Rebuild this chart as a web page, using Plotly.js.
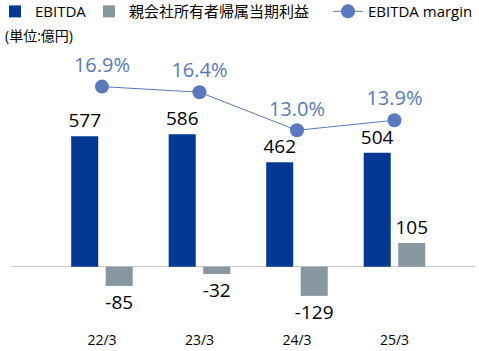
<!DOCTYPE html>
<html>
<head>
<meta charset="utf-8">
<script src="https://cdn.plot.ly/plotly-3.0.1.min.js"></script>
<style>html,body{margin:0;padding:0;background:#fff;}#chart{width:479px;height:351px;}</style>
</head>
<body>
<div id="chart"></div>
<script>
const categories = ["22/3", "23/3", "24/3", "25/3"];
const ebitda = [577, 586, 462, 504];
const netIncome = [-85, -32, -129, 105];
const ebitdaMargin = [16.9, 16.4, 13.0, 13.9];
const seriesNames = ["EBITDA", "親会社所有者帰属当期利益", "EBITDA margin"];
const unitLabel = "(単位:億円)";

const FONT = "'Open Sans', 'Noto Sans CJK JP', sans-serif";
const idx = categories.map((_, i) => i);

const traces = [
  {
    type: "bar", name: seriesNames[0], x: idx, y: ebitda, legend: "legend",
    marker: {color: "#003893"},
    text: ebitda.map(String), textposition: "outside", cliponaxis: false,
    constraintext: "none",
    textfont: {size: 19, color: "#000", family: FONT},
    hoverinfo: "skip"
  },
  {
    type: "bar", name: seriesNames[1], x: idx, y: netIncome, legend: "legend2",
    marker: {color: "#8797a0"},
    text: netIncome.map(String), textposition: "outside", cliponaxis: false,
    constraintext: "none",
    textfont: {size: 19, color: "#000", family: FONT},
    hoverinfo: "skip"
  },
  {
    type: "scatter", mode: "lines+markers+text", name: seriesNames[2], legend: "legend3",
    x: idx, y: ebitdaMargin, yaxis: "y2",
    line: {color: "#5a78be", width: 1},
    marker: {color: "#5a78be", size: 14},
    text: ebitdaMargin.map(v => v.toFixed(1) + "%"), textposition: "top center",
    textfont: {size: 20, color: "#5a78be", family: FONT},
    cliponaxis: false, hoverinfo: "skip"
  }
];

function legendAt(px) {
  return {
    orientation: "h", x: (px - 11) / 464, xanchor: "left", y: 1.196, yanchor: "top",
    font: {size: 15, color: "#000", family: FONT},
    bgcolor: "rgba(0,0,0,0)", itemclick: false
  };
}

const layout = {
  width: 479, height: 351,
  margin: {l: 11, r: 4, t: 50, b: 21, autoexpand: false},
  paper_bgcolor: "#fff", plot_bgcolor: "#fff",
  font: {family: FONT, color: "#000"},
  barmode: "group", bargap: 0.292, bargroupgap: 0.217,
  showlegend: true,
  legend: legendAt(-5),
  legend2: legendAt(89),
  legend3: legendAt(328),
  xaxis: {
    range: [-0.933, 3.826], tickmode: "array", tickvals: idx, ticktext: categories,
    showgrid: false, zeroline: false, showline: false, ticks: "",
    tickfont: {size: 14, color: "#000", family: FONT}
  },
  yaxis: {
    range: [-280, 958.8], showgrid: false, showticklabels: false,
    zeroline: true, zerolinecolor: "#c8c8c8", zerolinewidth: 1, showline: false
  },
  yaxis2: {
    range: [-4.83, 20.17], overlaying: "y", side: "right",
    showgrid: false, showticklabels: false, zeroline: false, showline: false
  },
  annotations: [{
    text: unitLabel, xref: "paper", yref: "paper", x: -0.017, y: 1.05,
    xanchor: "left", yanchor: "middle", showarrow: false,
    font: {size: 14, color: "#000", family: FONT}
  }]
};

Plotly.newPlot("chart", traces, layout, {displayModeBar: false, staticPlot: true});
</script>
</body>
</html>
